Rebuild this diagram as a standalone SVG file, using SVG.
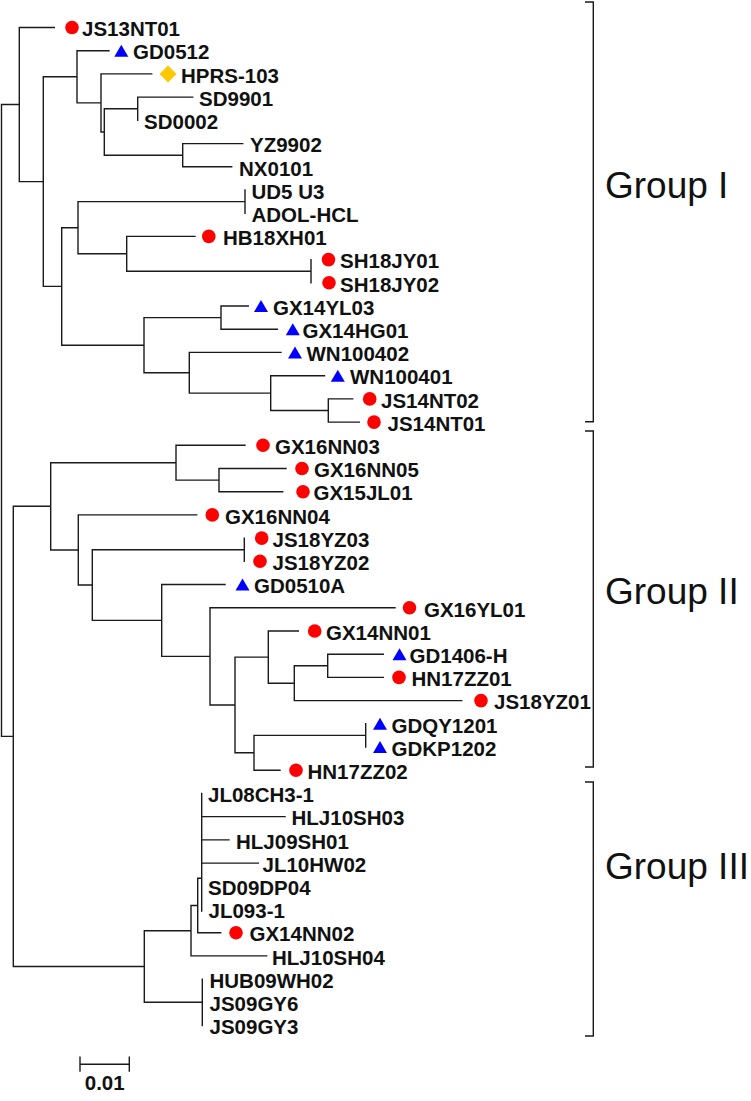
<svg xmlns="http://www.w3.org/2000/svg" width="751" height="1101" viewBox="0 0 751 1101">
<style>
.br{fill:none;stroke:#1a1a1a;stroke-width:1.4;stroke-linecap:square}
.lab{font-family:"Liberation Sans",Arial,sans-serif;font-weight:bold;font-size:20.5px;fill:#111}
.grp{font-family:"Liberation Sans",Arial,sans-serif;font-size:37px;fill:#111}
.dot{fill:#ff0000}
.tri{fill:#0000ff}
.dia{fill:#ffc800}
</style>
<rect width="751" height="1101" fill="#fff"/>
<g id="connectors" class="br">
<path d="M1.5 104.55V736.4M1.5 104.55H19.3M19.3 27.5V181.6M19.3 27.5H54.3
M19.3 181.6H43.3M43.3 76.8V286.4
M43.3 76.8H77M77 50.7V102.9M77 50.7H109
M77 102.9H101M101 73.9V131.95M101 73.9H151.7
M101 131.95H104.3M104.3 108.7V155.2
M104.3 108.7H137.7M137.7 97.1V120.3M137.7 97.1H192.7
M104.3 155.2H182.7M182.7 143.6V166.8M182.7 143.6H242.7M182.7 166.8H231.7
M43.3 286.4H61.7M61.7 227.7V345.2
M61.7 227.7H78M78 201.6V253.8
M78 201.6H245M245 190V213.2
M78 253.8H126.7M126.7 236.4V271.2M126.7 236.4H195
M126.7 271.2H311M311 259.6V282.8
M61.7 345.2H144M144 317.6V372.75
M144 317.6H221M221 306V329.2M221 306H248.3M221 329.2H277.3
M144 372.75H189.3M189.3 352.4V393.1M189.3 352.4H281
M189.3 393.1H270.7M270.7 375.7V410.5M270.7 375.7H324.5
M270.7 410.5H328.3M328.3 398.9V422.1M328.3 398.9H352.7M328.3 422.1H359.3
M1.5 736.4H13.3M13.3 506.3V966.5
M13.3 506.3H50.7M50.7 462.7V550
M50.7 462.7H176M176 445.3V480.1M176 445.3H245
M176 480.1H219M219 468.5V491.7M219 468.5H286M219 491.7H282.7
M50.7 550H78.3M78.3 514.9V585.05M78.3 514.9H196.7
M78.3 585.05H92.3M92.3 549.7V620.4
M92.3 549.7H244.3M244.3 538.1V561.3
M92.3 620.4H161.7M161.7 584.5V656.4M161.7 584.5H225
M161.7 656.4H210M210 607.8V704.95M210 607.8H395
M210 704.95H235M235 657.1V752.8
M235 657.1H268.3M268.3 631V683.2M268.3 631H298.3
M268.3 683.2H294.3M294.3 665.8V700.6M294.3 700.6H461.7
M294.3 665.8H327.7M327.7 654.2V677.4M327.7 654.2H383.3M327.7 677.4H383.3
M235 752.8H254M254 735.4V770.2M254 770.2H280
M254 735.4H365.7M365.7 723.8V747
M13.3 966.5H144.3M144.3 930.7V1002.3
M144.3 930.7H191M191 905.5V955.9M191 955.9H266.7
M191 905.5H197.7M197.7 878.3V932.7M197.7 932.7H220.7
M197.7 878.3H201.7M201.7 793.4V911M201.7 816.6H285M201.7 839.9H229M201.7 863.1H258.3
M144.3 1002.3H202.3M202.3 979.1V1025.5"/>
</g>
<g id="leaf-JS13NT01"><circle class="dot" cx="72" cy="27.5" r="6.8"/><text class="lab" x="82" y="36.2">JS13NT01</text></g>
<g id="leaf-GD0512"><path class="tri" d="M114.3 56.7H128.3L121.3 44.7Z"/><text class="lab" x="133" y="59.4">GD0512</text></g>
<g id="leaf-HPRS-103"><path class="dia" d="M168 65.4L176.5 73.9L168 82.4L159.5 73.9Z"/><text class="lab" x="181" y="82.6">HPRS-103</text></g>
<g id="leaf-SD9901"><text class="lab" x="199" y="105.8">SD9901</text></g>
<g id="leaf-SD0002"><text class="lab" x="144" y="129">SD0002</text></g>
<g id="leaf-YZ9902"><text class="lab" x="250" y="152.3">YZ9902</text></g>
<g id="leaf-NX0101"><text class="lab" x="239" y="175.5">NX0101</text></g>
<g id="leaf-UD5U3"><text class="lab" x="251.5" y="198.7">UD5 U3</text></g>
<g id="leaf-ADOL-HCL"><text class="lab" x="251.5" y="221.9">ADOL-HCL</text></g>
<g id="leaf-HB18XH01"><circle class="dot" cx="208.8" cy="236.4" r="6.8"/><text class="lab" x="223" y="245.1">HB18XH01</text></g>
<g id="leaf-SH18JY01"><circle class="dot" cx="328.5" cy="259.6" r="6.8"/><text class="lab" x="340" y="268.3">SH18JY01</text></g>
<g id="leaf-SH18JY02"><circle class="dot" cx="329" cy="282.8" r="6.8"/><text class="lab" x="340" y="291.5">SH18JY02</text></g>
<g id="leaf-GX14YL03"><path class="tri" d="M254 312H268L261 300Z"/><text class="lab" x="273" y="314.7">GX14YL03</text></g>
<g id="leaf-GX14HG01"><path class="tri" d="M285.8 335.2H299.8L292.8 323.2Z"/><text class="lab" x="302.5" y="337.9">GX14HG01</text></g>
<g id="leaf-WN100402"><path class="tri" d="M288 358.4H302L295 346.4Z"/><text class="lab" x="306.5" y="361.1">WN100402</text></g>
<g id="leaf-WN100401"><path class="tri" d="M330.8 381.7H344.8L337.8 369.7Z"/><text class="lab" x="350" y="384.4">WN100401</text></g>
<g id="leaf-JS14NT02"><circle class="dot" cx="369.7" cy="398.9" r="6.8"/><text class="lab" x="381" y="407.6">JS14NT02</text></g>
<g id="leaf-JS14NT01"><circle class="dot" cx="374" cy="422.1" r="6.8"/><text class="lab" x="387.5" y="430.8">JS14NT01</text></g>
<g id="leaf-GX16NN03"><circle class="dot" cx="263" cy="445.3" r="6.8"/><text class="lab" x="275" y="454">GX16NN03</text></g>
<g id="leaf-GX16NN05"><circle class="dot" cx="302" cy="468.5" r="6.8"/><text class="lab" x="314" y="477.2">GX16NN05</text></g>
<g id="leaf-GX15JL01"><circle class="dot" cx="303" cy="491.7" r="6.8"/><text class="lab" x="313.5" y="500.4">GX15JL01</text></g>
<g id="leaf-GX16NN04"><circle class="dot" cx="212.3" cy="514.9" r="6.8"/><text class="lab" x="225" y="523.6">GX16NN04</text></g>
<g id="leaf-JS18YZ03"><circle class="dot" cx="261.7" cy="538.1" r="6.8"/><text class="lab" x="272.5" y="546.8">JS18YZ03</text></g>
<g id="leaf-JS18YZ02"><circle class="dot" cx="260" cy="561.3" r="6.8"/><text class="lab" x="272.5" y="570">JS18YZ02</text></g>
<g id="leaf-GD0510A"><path class="tri" d="M235.5 590.5H249.5L242.5 578.5Z"/><text class="lab" x="254" y="593.2">GD0510A</text></g>
<g id="leaf-GX16YL01"><circle class="dot" cx="409.5" cy="607.8" r="6.8"/><text class="lab" x="424" y="616.5">GX16YL01</text></g>
<g id="leaf-GX14NN01"><circle class="dot" cx="314.7" cy="631" r="6.8"/><text class="lab" x="326" y="639.7">GX14NN01</text></g>
<g id="leaf-GD1406-H"><path class="tri" d="M392.5 660.2H406.5L399.5 648.2Z"/><text class="lab" x="409.5" y="662.9">GD1406-H</text></g>
<g id="leaf-HN17ZZ01"><circle class="dot" cx="399" cy="677.4" r="6.8"/><text class="lab" x="411.5" y="686.1">HN17ZZ01</text></g>
<g id="leaf-JS18YZ01"><circle class="dot" cx="481" cy="700.6" r="6.8"/><text class="lab" x="494" y="709.3">JS18YZ01</text></g>
<g id="leaf-GDQY1201"><path class="tri" d="M373 729.8H387L380 717.8Z"/><text class="lab" x="391.5" y="732.5">GDQY1201</text></g>
<g id="leaf-GDKP1202"><path class="tri" d="M373 753H387L380 741Z"/><text class="lab" x="391.5" y="755.7">GDKP1202</text></g>
<g id="leaf-HN17ZZ02"><circle class="dot" cx="296" cy="770.2" r="6.8"/><text class="lab" x="307.5" y="778.9">HN17ZZ02</text></g>
<g id="leaf-JL08CH3-1"><text class="lab" x="208" y="802.1">JL08CH3-1</text></g>
<g id="leaf-HLJ10SH03"><text class="lab" x="291.5" y="825.3">HLJ10SH03</text></g>
<g id="leaf-HLJ09SH01"><text class="lab" x="236" y="848.6">HLJ09SH01</text></g>
<g id="leaf-JL10HW02"><text class="lab" x="262.5" y="871.8">JL10HW02</text></g>
<g id="leaf-SD09DP04"><text class="lab" x="208" y="895">SD09DP04</text></g>
<g id="leaf-JL093-1"><text class="lab" x="208.5" y="918.2">JL093-1</text></g>
<g id="leaf-GX14NN02"><circle class="dot" cx="236" cy="932.7" r="6.8"/><text class="lab" x="249.5" y="941.4">GX14NN02</text></g>
<g id="leaf-HLJ10SH04"><text class="lab" x="272" y="964.6">HLJ10SH04</text></g>
<g id="leaf-HUB09WH02"><text class="lab" x="209.5" y="987.8">HUB09WH02</text></g>
<g id="leaf-JS09GY6"><text class="lab" x="209.5" y="1011">JS09GY6</text></g>
<g id="leaf-JS09GY3"><text class="lab" x="209.5" y="1034.2">JS09GY3</text></g>
<g id="group-I"><path class="br" d="M585.7 2H593.3V421.7H585.7"/><text class="grp" x="605" y="198.3">Group I</text></g>
<g id="group-II"><path class="br" d="M585.7 431H593.3V767H585.7"/><text class="grp" x="605" y="604">Group II</text></g>
<g id="group-III"><path class="br" d="M585.7 782H593.3V1036H585.7"/><text class="grp" x="605" y="879">Group III</text></g>
<g id="scale-bar"><path class="br" d="M80 1064.3H129.3M80 1057.3V1071M129.3 1057.3V1071"/><text class="lab" x="104.7" y="1090" text-anchor="middle">0.01</text></g>
</svg>
